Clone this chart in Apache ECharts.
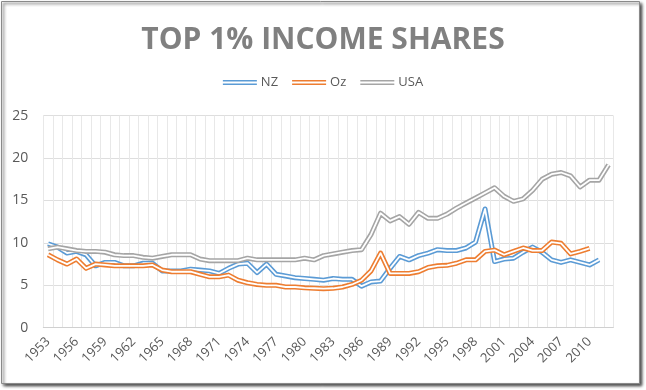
<!DOCTYPE html>
<html>
<head>
<meta charset="utf-8">
<script src="https://cdn.jsdelivr.net/npm/echarts@6/dist/echarts.min.js"></script>
<style>
html,body{margin:0;padding:0;background:#fff;}
#chart{width:646px;height:390px;}
</style>
</head>
<body>
<div id="chart"></div>
<script>
const years = ['1953','1954','1955','1956','1957','1958','1959','1960','1961','1962',
'1963','1964','1965','1966','1967','1968','1969','1970','1971','1972',
'1973','1974','1975','1976','1977','1978','1979','1980','1981','1982',
'1983','1984','1985','1986','1987','1988','1989','1990','1991','1992',
'1993','1994','1995','1996','1997','1998','1999','2000','2001','2002',
'2003','2004','2005','2006','2007','2008','2009','2010','2011','2012'];

const nz = [9.9,9.5,8.8,9.0,8.6,7.3,7.7,7.7,7.3,7.3,
7.6,7.6,6.7,6.7,6.7,6.9,6.8,6.7,6.4,7.0,
7.5,7.6,6.5,7.5,6.3,6.1,5.9,5.8,5.7,5.6,
5.8,5.7,5.7,4.9,5.4,5.5,7.0,8.4,8.0,8.5,
8.8,9.2,9.1,9.1,9.4,10.1,14.0,7.8,8.1,8.2,
8.9,9.5,8.9,8.0,7.7,8.0,7.7,7.4,8.0,null];

const oz = [8.6,8.0,7.5,8.1,7.0,7.5,7.4,7.3,7.3,7.3,
7.3,7.4,6.8,6.6,6.6,6.6,6.3,6.0,6.0,6.2,
5.6,5.3,5.1,5.0,5.0,4.8,4.8,4.7,4.65,4.6,
4.65,4.8,5.1,5.6,6.7,8.8,6.4,6.4,6.4,6.6,
7.1,7.3,7.35,7.6,8.0,8.0,9.0,9.15,8.6,9.0,
9.4,9.1,9.1,10.1,9.95,8.7,9.0,9.35,null,null];

const usa = [9.3,9.5,9.3,9.1,9.0,9.0,8.9,8.6,8.5,8.5,
8.3,8.2,8.4,8.6,8.6,8.6,8.1,7.9,7.9,7.9,
7.9,8.2,8.0,8.0,8.0,8.0,8.0,8.2,8.0,8.5,
8.7,8.9,9.1,9.2,11.0,13.5,12.6,13.1,12.2,13.6,
12.9,12.9,13.4,14.1,14.7,15.3,15.9,16.5,15.5,14.9,
15.2,16.2,17.5,18.1,18.3,17.9,16.6,17.4,17.4,19.2];

const seriesNames = ['NZ','Oz','USA'];
const seriesColors = ['#5B9BD5','#ED7D31','#A5A5A5'];
const seriesData = [nz, oz, usa];
const yTicks = {min:0, max:25, interval:5};

const chart = echarts.init(document.getElementById('chart'), null, {renderer:'canvas'});

const series = [];
seriesNames.forEach(function(name, i){
  series.push({
    name: name, type:'line', data: seriesData[i], showSymbol:false, symbol:'none',
    lineStyle:{color: seriesColors[i], width:5, join:'round'},
    itemStyle:{color: seriesColors[i]},
    emphasis:{disabled:true}, z: 2 + i*2, animation:false
  });
  series.push({
    name: name, type:'line', data: seriesData[i], showSymbol:false, symbol:'none',
    lineStyle:{color:'#ffffff', width:1.8, join:'round'},
    itemStyle:{color:'#ffffff'},
    emphasis:{disabled:true}, z: 3 + i*2, animation:false
  });
});

const iconPath = 'path://M0,0H34V1.6H0Z M0,3.4H34V5H0Z';

chart.setOption({
  backgroundColor:'#ffffff',
  animation:false,
  graphic:[{
    type:'rect', z:-10, silent:true,
    shape:{x:1.5, y:1.5, width:638, height:382},
    style:{fill:'#ffffff', stroke:'#8a8a8a', lineWidth:1,
      shadowBlur:3, shadowOffsetX:2, shadowOffsetY:2, shadowColor:'rgba(0,0,0,0.75)'}
  }],
  title:{
    text:'TOP 1% INCOME SHARES', left:'center', top:20,
    textStyle:{fontFamily:'Open Sans', fontWeight:'bold', fontSize:30, color:'#808080'}
  },
  legend:{
    top:71, left:'center', itemWidth:34, itemHeight:5, itemGap:14,
    data: seriesNames.map(function(n){return {name:n, icon:iconPath};}),
    textStyle:{fontFamily:'Open Sans', fontSize:13, color:'#595959', padding:[0,0,0,-1]}
  },
  grid:{left:43.3, right:32.7, top:115.7, bottom:62.3, containLabel:false},
  xAxis:{
    type:'category', data: years, boundaryGap:true,
    axisLine:{show:true, lineStyle:{color:'#d0d0d0'}},
    axisTick:{show:false},
    splitLine:{show:true, interval:0, lineStyle:{color:'#e8e8e8', width:1}},
    axisLabel:{interval:2, rotate:45, margin:12, fontFamily:'Open Sans', fontSize:13, color:'#595959'}
  },
  yAxis:{
    type:'value', min:yTicks.min, max:yTicks.max, interval:yTicks.interval,
    axisLine:{show:false}, axisTick:{show:false},
    splitLine:{show:true, lineStyle:{color:'#dedede', width:1}},
    axisLabel:{margin:15, fontFamily:'Open Sans', fontSize:14, color:'#595959'}
  },
  tooltip:{show:false},
  series: series
});
</script>
</body>
</html>
